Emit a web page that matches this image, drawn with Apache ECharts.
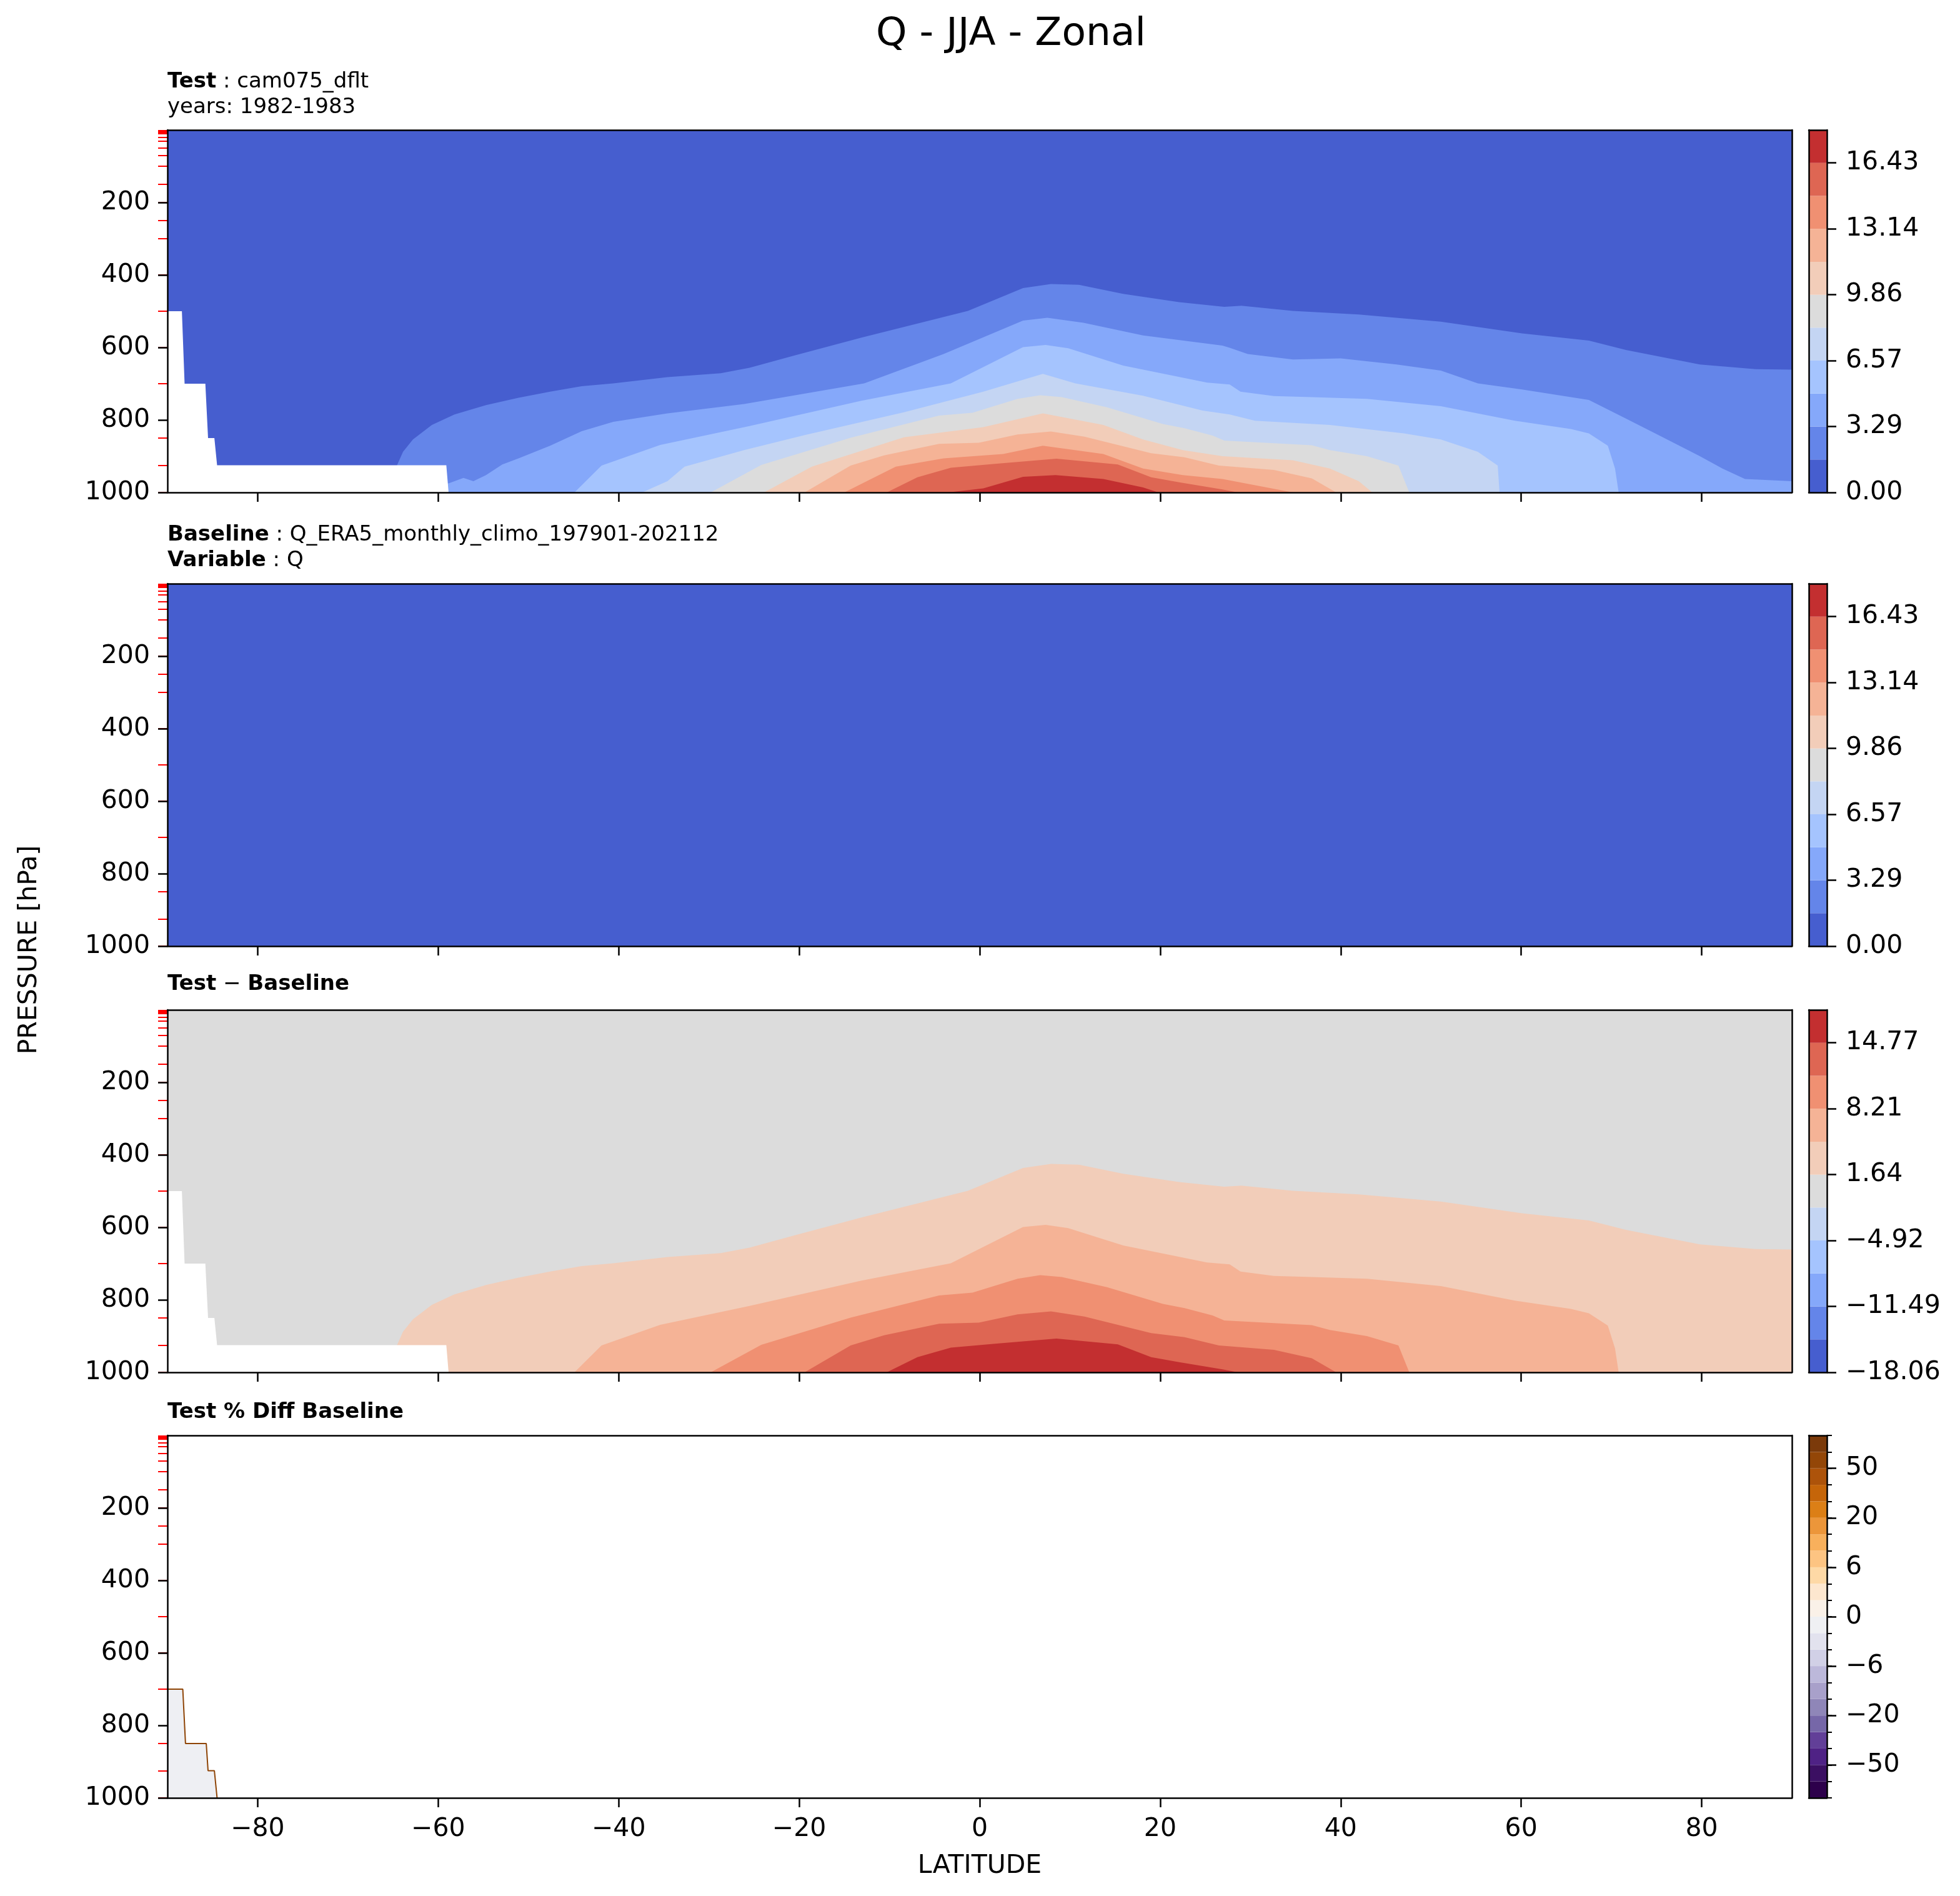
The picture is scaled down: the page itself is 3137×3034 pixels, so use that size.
<!DOCTYPE html>
<html>
<head>
<meta charset="utf-8">
<script src="https://cdn.jsdelivr.net/npm/echarts@6/dist/echarts.min.js"></script>
<style>
html,body{margin:0;padding:0;background:#fff;}
#chart{width:3137px;height:3034px;}
</style>
</head>
<body>
<div id="chart"></div>
<script>
// ---------------- DATA ----------------
const LAT_TICKS = [-80, -60, -40, -20, 0, 20, 40, 60, 80];
const P_TICKS = [200, 400, 600, 800, 1000];
const P_LEVELS = [1, 2, 3, 5, 7, 10, 20, 30, 50, 70, 100, 150, 200, 250, 300, 400, 500, 600, 700, 850, 925, 1000];

// Test Q contour boundaries [latitude, pressure] (upper edge of region where Q >= level)
const Q_164 = [[-64.6,927],[-63.9,888],[-62.8,854],[-60.7,814],[-58.2,785],[-54.7,759],[-51.1,739],[-47.6,722],[-44.1,707],[-40.6,699],[-34.6,682],[-28.7,671],[-25.5,656],[-20.5,622],[-13.1,573],[-1.3,499],[4.8,436],[7.9,425],[11,427],[15.9,452],[22.1,475],[27.1,488],[29,485],[34.7,499],[42,509],[51.1,529],[60.1,561],[67.5,581],[71.6,607],[79.8,647],[86,660],[90,661]];
const Q_329 = [[-59.2,975],[-58.85,975],[-57.2,960],[-56.1,969],[-54.7,952],[-52.9,923],[-51.1,906],[-47.6,871],[-44.1,831],[-40.6,805],[-34.6,782],[-26.1,756],[-12.8,699],[-4,618],[4.8,526],[7.5,518],[11.5,532],[18.1,567],[26.9,595],[27.7,601],[29.7,618],[34.7,633],[40,630],[46.2,647],[51.1,664],[55.2,699],[60.1,716],[67.5,745],[71.6,796],[75.7,848],[79.8,900],[82.3,934],[84.8,963],[90,969]];
const Q_493 = [[-44.9,1000],[-41.9,926],[-35.4,869],[-25.5,817],[-13.1,747],[-3.2,699],[4.8,599],[7.3,593],[9.8,602],[15.9,650],[25.2,697],[27.7,702],[28.9,722],[32.6,734],[36.8,737],[42.9,742],[51.1,762],[59.3,802],[65.5,825],[67.5,837],[69.6,871],[70.4,934],[70.8,1000]];
const Q_657 = [[-37.4,1000],[-34.6,969],[-32.7,929],[-26.1,883],[-19.4,842],[-8.4,779],[0.4,722],[7,673],[10.6,699],[18.1,733],[24.7,774],[27.7,785],[30.5,802],[38.8,814],[47,837],[51.1,854],[55.2,888],[57.4,926],[57.6,1000]];
const Q_821 = [[-29.8,1000],[-24.2,924],[-14.3,849],[-4.5,788],[-0.8,780],[4.2,742],[6.7,732],[9.1,737],[14.1,765],[20.3,811],[22.7,823],[25.8,843],[27.1,857],[36.8,870],[38.8,883],[42.9,900],[46.4,926],[47.6,1000]];
const Q_986 = [[-23.9,1000],[-18.6,929],[-8.4,848],[0.4,820],[7,782],[13.7,814],[18.1,854],[22.5,883],[26.9,900],[34.7,911],[38.8,934],[42,969],[43.5,1000]];
const Q_1150 = [[-19.4,1000],[-14.3,926],[-10.6,898],[-4.5,866],[-0.1,863],[4.2,840],[7.9,832],[11.6,846],[19,892],[22.7,903],[26.5,926],[32.6,938],[36.8,961],[39.5,1000]];
const Q_1314 = [[-15,1000],[-9.3,929],[-4,906],[2.6,894],[7,871],[13.7,894],[18.1,934],[22.5,952],[26.9,963],[34.7,1000]];
const Q_1478 = [[-10.3,1000],[-6.9,958],[-3.2,932],[1.7,921],[8.5,907],[15.3,923],[19,958],[22.1,972],[26.9,992],[28.6,1000]];
const Q_1643 = [[-3.5,1000],[0.4,989],[4.8,957],[8.4,952],[13.7,963],[18.1,986],[19.8,1000]];

// Below-surface (missing) region in test data
const MASK_TOP = [[-90,500],[-88.4,500],[-88.1,700],[-85.8,700],[-85.5,850],[-84.8,850],[-84.5,925],[-59.1,925],[-58.85,1000]];
// Percent-difference non-zero region
const PCT_REGION = [[-90,700],[-88.3,700],[-88,850],[-85.7,850],[-85.5,925],[-84.8,925],[-84.5,1000]];

// Colorbars
const COOLWARM = ['#465ecf','#6485e9','#85a8fa','#a5c4fe','#c4d5f3','#dcdcdc','#f2cdb9','#f5b396','#f09072','#de6653','#c32f30'];
const CB1_POS = [0, 2, 4, 6, 8, 10];
const CB1_LABELS = ['0.00', '3.29', '6.57', '9.86', '13.14', '16.43'];
const CB3_POS = [0, 2, 4, 6, 8, 10];
const CB3_LABELS = ['\u221218.06', '\u221211.49', '\u22124.92', '1.64', '8.21', '14.77'];
const PUOR = ['#2d004b','#3b0f62','#4f2285','#623f98','#7667a8','#8f86b8','#a8a0ca','#bcb8da','#d1d0e6','#e2e2ee','#eff0f3','#faf1e8','#fde7cf','#fed9a6','#fdc482','#f8b05c','#ec963a','#dc7f16','#c56509','#ad530a','#934607','#7b3a0a'];
const CB4_POS = [2, 5, 8, 11, 14, 17, 20];
const CB4_LABELS = ['\u221250', '\u221220', '\u22126', '0', '6', '20', '50'];

// ---------------- LAYOUT ----------------
const FONT = 'DejaVu Sans';
const L = 268, PW = 2600, PH = 580;
const TOPS = [208, 934, 1616, 2297];
const CBX = 2895, CBW = 29;
const TICK_FS = 41;

const grids = [], xAxes = [], yAxes = [], series = [];
const blackLine = {color: '#000', width: 2.5};

function addPanel(idx, bg, isBottom) {
  const g = grids.length;
  grids.push({left: L, top: TOPS[idx], width: PW, height: PH, show: true, backgroundColor: bg, borderWidth: 0, containLabel: false});
  const xi = xAxes.length;
  xAxes.push({gridIndex: g, type: 'value', min: -90, max: 90, position: 'bottom', z: 50,
    axisLine: {show: true, onZero: false, lineStyle: blackLine},
    axisTick: {show: true, customValues: LAT_TICKS, length: 15, lineStyle: blackLine},
    axisLabel: {show: isBottom, customValues: LAT_TICKS, formatter: v => String(v).replace('-', '\u2212'),
      fontSize: TICK_FS, fontFamily: FONT, color: '#000', margin: 30},
    splitLine: {show: false}});
  xAxes.push({gridIndex: g, type: 'value', min: -90, max: 90, position: 'top', z: 50,
    axisLine: {show: true, onZero: false, lineStyle: blackLine},
    axisTick: {show: false}, axisLabel: {show: false}, splitLine: {show: false}});
  yAxes.push({gridIndex: g, type: 'value', inverse: true, min: 0, max: 1000, position: 'left', z: 49,
    axisLine: {show: false, onZero: false},
    axisTick: {show: true, customValues: P_LEVELS, length: 15, lineStyle: {color: '#ff0000', width: 2}},
    axisLabel: {show: false}, splitLine: {show: false}});
  const yi = yAxes.length;
  yAxes.push({gridIndex: g, type: 'value', inverse: true, min: 0, max: 1000, position: 'left', z: 50,
    axisLine: {show: true, onZero: false, lineStyle: blackLine},
    axisTick: {show: true, customValues: P_TICKS, length: 15, lineStyle: blackLine},
    axisLabel: {show: true, customValues: P_TICKS, formatter: v => String(v), fontSize: TICK_FS, fontFamily: FONT, color: '#000', margin: 28},
    splitLine: {show: false}});
  yAxes.push({gridIndex: g, type: 'value', inverse: true, min: 0, max: 1000, position: 'right', z: 50,
    axisLine: {show: true, onZero: false, lineStyle: blackLine},
    axisTick: {show: false}, axisLabel: {show: false}, splitLine: {show: false}});
  return {xi, yi};
}

function area(ax, data, color, lineColor) {
  return {type: 'line', xAxisIndex: ax.xi, yAxisIndex: ax.yi, data: data, showSymbol: false, symbol: 'none',
    silent: true, animation: false, z: 2,
    lineStyle: lineColor ? {color: lineColor, width: 2} : {width: 0, opacity: 0},
    areaStyle: {color: color, opacity: 1, origin: 'end'}};
}

function addColorbar(idx, colors, majorPos, majorLabels, withMinor) {
  const g = grids.length;
  const n = colors.length;
  grids.push({left: CBX, top: TOPS[idx], width: CBW, height: PH, show: false, containLabel: false});
  const xi = xAxes.length;
  xAxes.push({gridIndex: g, type: 'category', data: [''], position: 'bottom', z: 50,
    axisLine: {show: true, onZero: false, lineStyle: blackLine}, axisTick: {show: false}, axisLabel: {show: false}});
  xAxes.push({gridIndex: g, type: 'category', data: [''], position: 'top', z: 50,
    axisLine: {show: true, onZero: false, lineStyle: blackLine}, axisTick: {show: false}, axisLabel: {show: false}});
  yAxes.push({gridIndex: g, type: 'value', min: 0, max: n, position: 'left', z: 50,
    axisLine: {show: true, onZero: false, lineStyle: blackLine}, axisTick: {show: false}, axisLabel: {show: false}, splitLine: {show: false}});
  if (withMinor) {
    const minor = [];
    for (let i = 0; i <= n; i++) minor.push(i);
    yAxes.push({gridIndex: g, type: 'value', min: 0, max: n, position: 'right', z: 50,
      axisLine: {show: false, onZero: false},
      axisTick: {show: true, customValues: minor, length: 8, lineStyle: {color: '#000', width: 2}},
      axisLabel: {show: false}, splitLine: {show: false}});
  }
  const yi = yAxes.length;
  yAxes.push({gridIndex: g, type: 'value', min: 0, max: n, position: 'right', z: 50,
    axisLine: {show: true, onZero: false, lineStyle: blackLine},
    axisTick: {show: true, customValues: majorPos, length: 15, lineStyle: blackLine},
    axisLabel: {show: true, customValues: majorPos, formatter: v => majorLabels[majorPos.indexOf(v)],
      fontSize: TICK_FS, fontFamily: FONT, color: '#000', margin: 30},
    splitLine: {show: false}});
  colors.forEach(c => {
    series.push({type: 'bar', xAxisIndex: xi, yAxisIndex: yi, data: [1], stack: 'cb' + g, barWidth: '100%',
      itemStyle: {color: c}, silent: true, animation: false});
  });
}

// Panel 1: Test
const p1 = addPanel(0, COOLWARM[0], false);
[Q_164, Q_329, Q_493, Q_657, Q_821, Q_986, Q_1150, Q_1314, Q_1478, Q_1643].forEach((d, k) => {
  series.push(area(p1, d, COOLWARM[k + 1]));
});
series.push(area(p1, MASK_TOP, '#ffffff'));
addColorbar(0, COOLWARM, CB1_POS, CB1_LABELS, false);

// Panel 2: Baseline (all in lowest band)
const p2 = addPanel(1, COOLWARM[0], false);
addColorbar(1, COOLWARM, CB1_POS, CB1_LABELS, false);

// Panel 3: Test - Baseline
const p3 = addPanel(2, COOLWARM[5], false);
[Q_164, Q_493, Q_821, Q_1150, Q_1478].forEach((d, k) => {
  series.push(area(p3, d, COOLWARM[k + 6]));
});
series.push(area(p3, MASK_TOP, '#ffffff'));
addColorbar(2, COOLWARM, CB3_POS, CB3_LABELS, false);

// Panel 4: percent difference
const p4 = addPanel(3, '#ffffff', true);
series.push(area(p4, PCT_REGION, '#eeeff3', '#8e4406'));
addColorbar(3, PUOR, CB4_POS, CB4_LABELS, true);

// ---------------- TEXT ----------------
const subFS = 34;
const rich = {
  b: {fontFamily: FONT, fontSize: subFS, fontWeight: 'bold', fill: '#000'},
  n: {fontFamily: FONT, fontSize: subFS, fill: '#000'}
};
function txt(x, y, text, extra) {
  return Object.assign({type: 'text', x: x, y: y, z: 100, silent: true,
    style: Object.assign({text: text, fontFamily: FONT, fontSize: subFS, fill: '#000', align: 'left', verticalAlign: 'middle', rich: rich}, extra || {})});
}
const graphic = [
  txt(1618, 56, 'Q - JJA - Zonal', {fontSize: 63, align: 'center'}),
  txt(L, 131, '{b|Test}{n| : cam075_dflt}'),
  txt(L, 172, '{n|years: 1982-1983}'),
  txt(L, 856, '{b|Baseline}{n| : Q_ERA5_monthly_climo_197901-202112}'),
  txt(L, 897, '{b|Variable}{n| : Q}'),
  txt(L, 1575, '{b|Test}{n| \u2212 }{b|Baseline}'),
  txt(L, 2260, '{b|Test % Diff Baseline}'),
  txt(1568, 2986, 'LATITUDE', {fontSize: TICK_FS, align: 'center'}),
  Object.assign(txt(47, 1520, 'PRESSURE [hPa]', {fontSize: TICK_FS, align: 'center'}), {rotation: Math.PI / 2})
];

const chart = echarts.init(document.getElementById('chart'), null, {renderer: 'canvas', width: 3137, height: 3034});
chart.setOption({
  animation: false,
  backgroundColor: '#ffffff',
  grid: grids,
  xAxis: xAxes,
  yAxis: yAxes,
  series: series,
  graphic: graphic
});
</script>
</body>
</html>
